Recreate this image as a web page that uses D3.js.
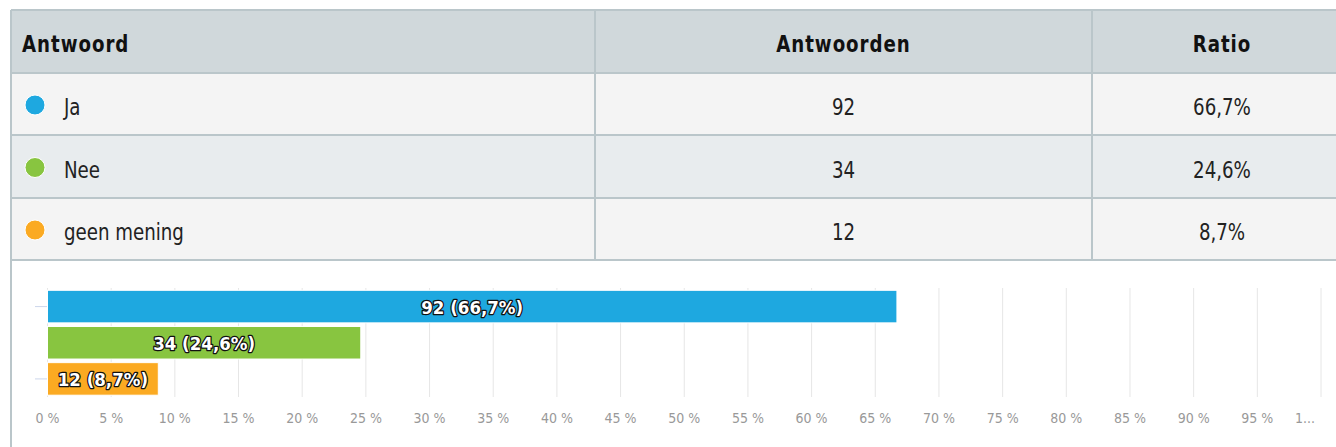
<!DOCTYPE html>
<html>
<head>
<meta charset="utf-8">
<script src="https://cdn.jsdelivr.net/npm/d3@7"></script>
<style>
  body { margin: 0; background: #fff; }
  svg { display: block; font-family: "DejaVu Sans Condensed", "DejaVu Sans", sans-serif; }
</style>
</head>
<body>
<div id="chart"></div>
<script>
const WIDTH = 1336, HEIGHT = 447;

// data
const answers = ["Ja", "Nee", "geen mening"];
const counts = [92, 34, 12];
const ratios = [66.7, 24.6, 8.7];
const colors = ["#1ea8e0", "#88c540", "#fbaa22"];
const headers = ["Antwoord", "Antwoorden", "Ratio"];
const tickValues = [0, 5, 10, 15, 20, 25, 30, 35, 40, 45, 50, 55, 60, 65, 70, 75, 80, 85, 90, 95, 100];

const fmt = v => v.toFixed(1).replace(".", ",") + "%";
const NARROW = 0.88; // squeeze the condensed font a bit more

let svg = d3.select("#chart")
    .append("svg")
    .attr("width", WIDTH)
    .attr("height", HEIGHT);

// ---- table ----
const table = {left: 11, right: 1352, top: 10, rowH: [63, 62, 63, 62]};
const colX = [11, 595, 1092, 1352];
let rowY = [table.top];
table.rowH.forEach(h => rowY.push(rowY[rowY.length - 1] + h));
const rowFill = ["#d0d8db", "#f4f4f4", "#e8ecee", "#f4f4f4"];
const lineColor = "#bac6ca";

let t = svg.append("g");

t.selectAll("rect.row")
    .data(rowFill)
    .enter().append("rect")
    .attr("class", "row")
    .attr("x", table.left)
    .attr("y", (d, i) => rowY[i])
    .attr("width", table.right - table.left)
    .attr("height", (d, i) => rowY[i + 1] - rowY[i])
    .style("fill", d => d);

t.selectAll("line.h")
    .data(rowY)
    .enter().append("line")
    .attr("x1", table.left).attr("x2", table.right)
    .attr("y1", d => d).attr("y2", d => d)
    .style("stroke", lineColor).style("stroke-width", 2);

t.selectAll("line.v")
    .data(colX.slice(1, 3))
    .enter().append("line")
    .attr("x1", d => d).attr("x2", d => d)
    .attr("y1", rowY[0]).attr("y2", rowY[4])
    .style("stroke", lineColor).style("stroke-width", 2);

// left border runs all the way down
svg.append("line")
    .attr("x1", table.left).attr("x2", table.left)
    .attr("y1", rowY[0]).attr("y2", HEIGHT)
    .style("stroke", lineColor).style("stroke-width", 2);

const colCenter = i => (colX[i] + colX[i + 1]) / 2;

function cellText(g, px, py, txt, anchor, bold) {
    return g.append("text")
        .attr("transform", `translate(${px},${py}) scale(${NARROW},1)`)
        .attr("text-anchor", anchor)
        .style("font-size", "23px")
        .style("font-weight", bold ? "bold" : "normal")
        .style("letter-spacing", bold ? "1.1px" : "0px")
        .style("fill", bold ? "#111" : "#222")
        .text(txt);
}

headers.forEach((h, i) => {
    cellText(t, i === 0 ? 22 : colCenter(i), 52, h, i === 0 ? "start" : "middle", true);
});

answers.forEach((a, i) => {
    let cy = (rowY[i + 1] + rowY[i + 2]) / 2;
    t.append("circle")
        .attr("cx", 35).attr("cy", cy + 1)
        .attr("r", 10)
        .style("fill", colors[i])
        .style("stroke", "#fff").style("stroke-width", 1);
    cellText(t, 64, cy + 11, a, "start", false);
    cellText(t, colCenter(1), cy + 11, counts[i], "middle", false);
    cellText(t, colCenter(2), cy + 11, fmt(ratios[i]), "middle", false);
});

// ---- bar chart ----
let x = d3.scaleLinear().domain([0, 100]).range([47.5, 1321]);
let y = d3.scaleBand().domain(answers).range([288.5, 397]).paddingInner(0.1).paddingOuter(0.05);

let grid = svg.append("g");
grid.selectAll("line")
    .data(tickValues)
    .enter().append("line")
    .attr("x1", d => x(d)).attr("x2", d => x(d))
    .attr("y1", 288).attr("y2", 397)
    .style("stroke", "#e6e6e6").style("stroke-width", 1);

// category ticks (every second category)
svg.append("g").selectAll("line")
    .data([answers[0], answers[2]])
    .enter().append("line")
    .attr("x1", 35).attr("x2", 48)
    .attr("y1", d => y(d) + y.bandwidth() / 2).attr("y2", d => y(d) + y.bandwidth() / 2)
    .style("stroke", "#ccd6eb").style("stroke-width", 1);

let bars = svg.append("g");
bars.selectAll("rect")
    .data(answers)
    .enter().append("rect")
    .attr("x", x(0))
    .attr("y", d => y(d))
    .attr("width", (d, i) => x(ratios[i]) - x(0))
    .attr("height", y.bandwidth())
    .style("fill", (d, i) => colors[i])
    .style("stroke", "#fff").style("stroke-width", 1);

bars.selectAll("text")
    .data(answers)
    .enter().append("text")
    .attr("x", (d, i) => (x(0) + x(ratios[i])) / 2)
    .attr("y", d => y(d) + y.bandwidth() / 2 + 7)
    .attr("text-anchor", "middle")
    .style("font-size", "18.5px")
    .style("font-weight", "bold")
    .style("fill", "#fff")
    .style("stroke", "#111")
    .style("stroke-width", 2.5)
    .style("stroke-linejoin", "round")
    .style("paint-order", "stroke")
    .text((d, i) => `${counts[i]} (${fmt(ratios[i])})`);

// x axis labels
svg.append("g").selectAll("text")
    .data(tickValues)
    .enter().append("text")
    .attr("x", d => d === 100 ? x(d) - 16 : x(d))
    .attr("y", 423)
    .attr("text-anchor", "middle")
    .style("font-size", "14px")
    .style("fill", "#999")
    .text(d => d === 100 ? "1..." : d + " %");
</script>
</body>
</html>
